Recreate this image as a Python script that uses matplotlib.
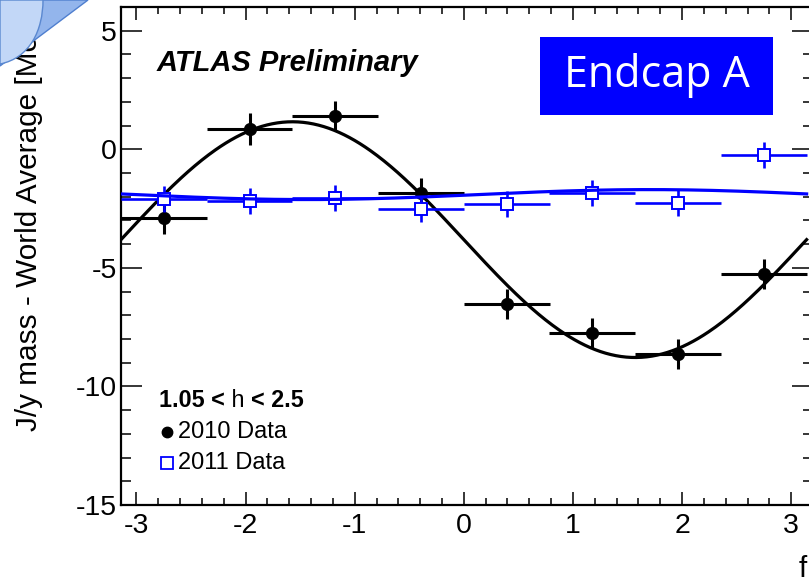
import numpy as np
import matplotlib
matplotlib.use("Agg")
import matplotlib.pyplot as plt
from matplotlib.patches import Polygon, PathPatch, Rectangle
from matplotlib.path import Path

plt.rcParams['font.family'] = ['Liberation Sans', 'DejaVu Sans']
plt.rcParams['axes.unicode_minus'] = False

# phi bin centres (8 bins over [-pi, pi]) and half widths
phi_centers = [-2.749, -1.963, -1.178, -0.393, 0.393, 1.178, 1.963, 2.749]
phi_halfwidth = [0.393] * 8

# 2010 data
mass_2010 = [-2.90, 0.85, 1.41, -1.85, -6.52, -7.76, -8.63, -5.25]
err_2010 = [0.67, 0.68, 0.62, 0.63, 0.64, 0.63, 0.64, 0.64]

# 2011 data
mass_2011 = [-2.09, -2.17, -2.06, -2.51, -2.31, -1.85, -2.27, -0.26]
err_2011 = [0.55, 0.55, 0.55, 0.55, 0.55, 0.55, 0.55, 0.55]

# sinusoidal fit results: p0 + p1*sin(phi + p2)
fit_2010 = [-3.81, -4.97, 0.0]
fit_2011 = [-1.91, 0.21, -0.13]

BLUE = '#0000ff'
W, H = 809, 584

fig = plt.figure(figsize=(W / 100, H / 100), dpi=100)

# axes box in pixels: left 121, right 813 (beyond the crop), top 7, bottom 505
ax = fig.add_axes([121 / W, (H - 505) / H, (813 - 121) / W, (505 - 7) / H])
ax.set_xlim(-np.pi, np.pi)
ax.set_ylim(-15, 6)

phi = np.linspace(-np.pi, np.pi, 400)

ax.errorbar(phi_centers, mass_2010, xerr=phi_halfwidth, yerr=err_2010,
            fmt='o', color='black', ms=8.5, elinewidth=2.2, capsize=0, zorder=3)
ax.plot(phi, fit_2010[0] + fit_2010[1] * np.sin(phi + fit_2010[2]),
        color='black', lw=2.3, zorder=4)

ax.errorbar(phi_centers, mass_2011, xerr=phi_halfwidth, yerr=err_2011,
            fmt='s', color=BLUE, mfc='white', mec=BLUE, mew=1.4, ms=8.5,
            elinewidth=1.9, capsize=0, zorder=5)
ax.plot(phi, fit_2011[0] + fit_2011[1] * np.sin(phi + fit_2011[2]),
        color=BLUE, lw=2.3, zorder=6)

# ROOT style axes
ax.set_xticks([-3, -2, -1, 0, 1, 2, 3])
ax.set_xticks(np.arange(-3.0, 3.3, 0.2), minor=True)
ax.set_yticks([-15, -10, -5, 0, 5])
ax.set_yticks(np.arange(-15, 7, 1), minor=True)
ax.tick_params(axis='both', which='both', direction='in', top=True, right=True,
               width=1.1, colors='black')
ax.tick_params(axis='x', which='major', length=9.5, pad=6, labelsize=20.5)
ax.tick_params(axis='x', which='minor', length=5)
ax.tick_params(axis='y', which='major', length=15, pad=3, labelsize=20.5)
ax.tick_params(axis='y', which='minor', length=7.5)
for sp in ax.spines.values():
    sp.set_linewidth(1.6)

# texts
ax.text(0.052, 0.888, 'ATLAS Preliminary', transform=ax.transAxes,
        fontsize=21, fontweight='bold', fontstyle='italic', va='center', ha='left')

t1 = ax.text(0.055, 0.209, '1.05 <', transform=ax.transAxes, fontsize=16.8,
             fontweight='bold', va='center', ha='left')
t2 = ax.annotate(' h ', xy=(1, 0), xycoords=t1, fontsize=16.8, va='bottom', ha='left')
ax.annotate('< 2.5', xy=(1, 0), xycoords=t2, fontsize=16.8, fontweight='bold',
            va='bottom', ha='left')

ax.plot([0.0665], [0.147], 'o', color='black', ms=7.5, transform=ax.transAxes,
        clip_on=False)
ax.text(0.082, 0.147, '2010 Data', transform=ax.transAxes, fontsize=17,
        va='center', ha='left')
ax.plot([0.0665], [0.084], 's', mfc='white', mec=BLUE, mew=1.3, ms=8,
        transform=ax.transAxes, clip_on=False)
ax.text(0.082, 0.084, '2011 Data', transform=ax.transAxes, fontsize=17,
        va='center', ha='left')

# axis titles (ROOT right/top aligned)
fig.text(29 / W, 1 - 7 / H, 'J/y mass - World Average [MeV]', rotation=90,
         ha='center', va='top', fontsize=21.4)
fig.text(807 / W, 1 - 583 / H, 'f', ha='right', va='bottom', fontsize=21.4)

# "Endcap A" label
fig.patches.append(Rectangle((540 / W, 1 - 115 / H), 233 / W, 78 / H,
                             transform=fig.transFigure, facecolor=BLUE,
                             edgecolor='none', zorder=5))
fig.text(657 / W, 1 - 76 / H, 'Endcap A', ha='center', va='center',
         color='white', fontsize=31, family='Open Sans', zorder=6)


def px(x, y):
    return (x / W, 1 - y / H)


# page corner decoration at top-left
fig.patches.append(Polygon([px(0, 0), px(88, 0), px(0, 66)], closed=True,
                           transform=fig.transFigure, facecolor='#93b5ec',
                           edgecolor='#4f7fcf', lw=1.0, zorder=20))
curl = Path([px(0, 0), px(43, 0), px(43, 30), px(30, 58), px(0, 64), px(0, 0)],
            [Path.MOVETO, Path.LINETO, Path.CURVE4, Path.CURVE4, Path.CURVE4,
             Path.CLOSEPOLY])
fig.patches.append(PathPatch(curl, transform=fig.transFigure, facecolor='#c2d7f7',
                             edgecolor='#5a88d0', lw=1.0, zorder=21))

fig.savefig('out.png', dpi=100)
